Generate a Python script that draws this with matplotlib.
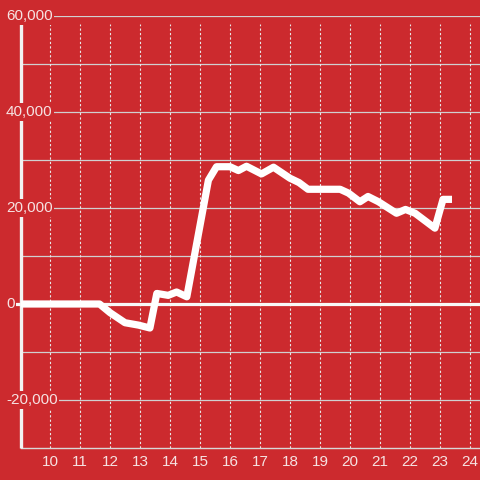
import matplotlib
matplotlib.use("Agg")
import matplotlib.pyplot as plt
import matplotlib.transforms as mtransforms

hours = [9.0, 11.65, 12.0, 12.5, 12.95, 13.33, 13.56, 13.94, 14.22, 14.56, 15.28, 15.55,
         16.0, 16.28, 16.55, 17.05, 17.45, 18.0, 18.3, 18.6, 19.67, 19.95, 20.33,
         20.6, 20.95, 21.55, 21.85, 22.17, 22.83, 23.1, 23.4]
values = [0, 0, -1800, -3900, -4400, -5000, 2200, 1800, 2500, 1500, 25800, 28600,
          28600, 27800, 28700, 27100, 28500, 26200, 25300, 23900, 23900, 23100, 21300,
          22400, 21300, 18900, 19700, 18900, 15800, 21800, 21800]
x_ticks = list(range(10, 25))
y_ticks = [-20000, 0, 20000, 40000, 60000]
y_grid = list(range(-20000, 60001, 10000))

BG = '#cc2a2e'
TXT = '#f6e2e2'
plt.rcParams['font.family'] = ['Liberation Sans', 'DejaVu Sans']

fig = plt.figure(figsize=(4.8, 4.8), dpi=100, facecolor=BG)
ax = fig.add_axes([21/480, 32/480, 459/480, 432/480], facecolor=BG)
ax.set_xlim(9.033, 24.333)
ax.set_ylim(-30000, 60000)

for s in ['top', 'right', 'left']:
    ax.spines[s].set_visible(False)
ax.spines['bottom'].set_color('#d8d8d8')
ax.spines['bottom'].set_linewidth(1.0)

# horizontal grid
for yv in y_grid:
    if yv == 0:
        continue
    ax.axhline(yv, color='#d0d0d0', lw=0.9, zorder=1)
# vertical dotted grid
ax.vlines(x_ticks, -30000, 58333, colors='#e8e8e8', lw=0.8,
          linestyles=(0, (2, 2)), zorder=1)
# left axis line
ax.plot([9.033, 9.033], [-30000, 58333], color='#f2f2f2', lw=2.4,
        solid_capstyle='butt', zorder=3, clip_on=False)
# zero line
ax.plot([8.9, 24.4], [0, 0], color='#f8f8f8', lw=2.3, zorder=3, clip_on=False)

ax.plot(hours, values, color='white', lw=5.2, solid_joinstyle='round',
        solid_capstyle='butt', zorder=4)

ax.set_xticks(x_ticks)
ax.set_xticklabels([str(t) for t in x_ticks], color=TXT, fontsize=11)
ax.tick_params(axis='x', length=0, pad=5)
ax.set_yticks([])

tr = mtransforms.blended_transform_factory(fig.transFigure, ax.transData)
for yv in y_ticks:
    ax.text(6/480, yv, f"{yv:,}", transform=tr, ha='left', va='center',
            color=TXT, fontsize=11, zorder=6, clip_on=False,
            bbox=dict(boxstyle='square,pad=0.12', fc=BG, ec='none'))

fig.savefig('out.png', dpi=100, facecolor=BG)
